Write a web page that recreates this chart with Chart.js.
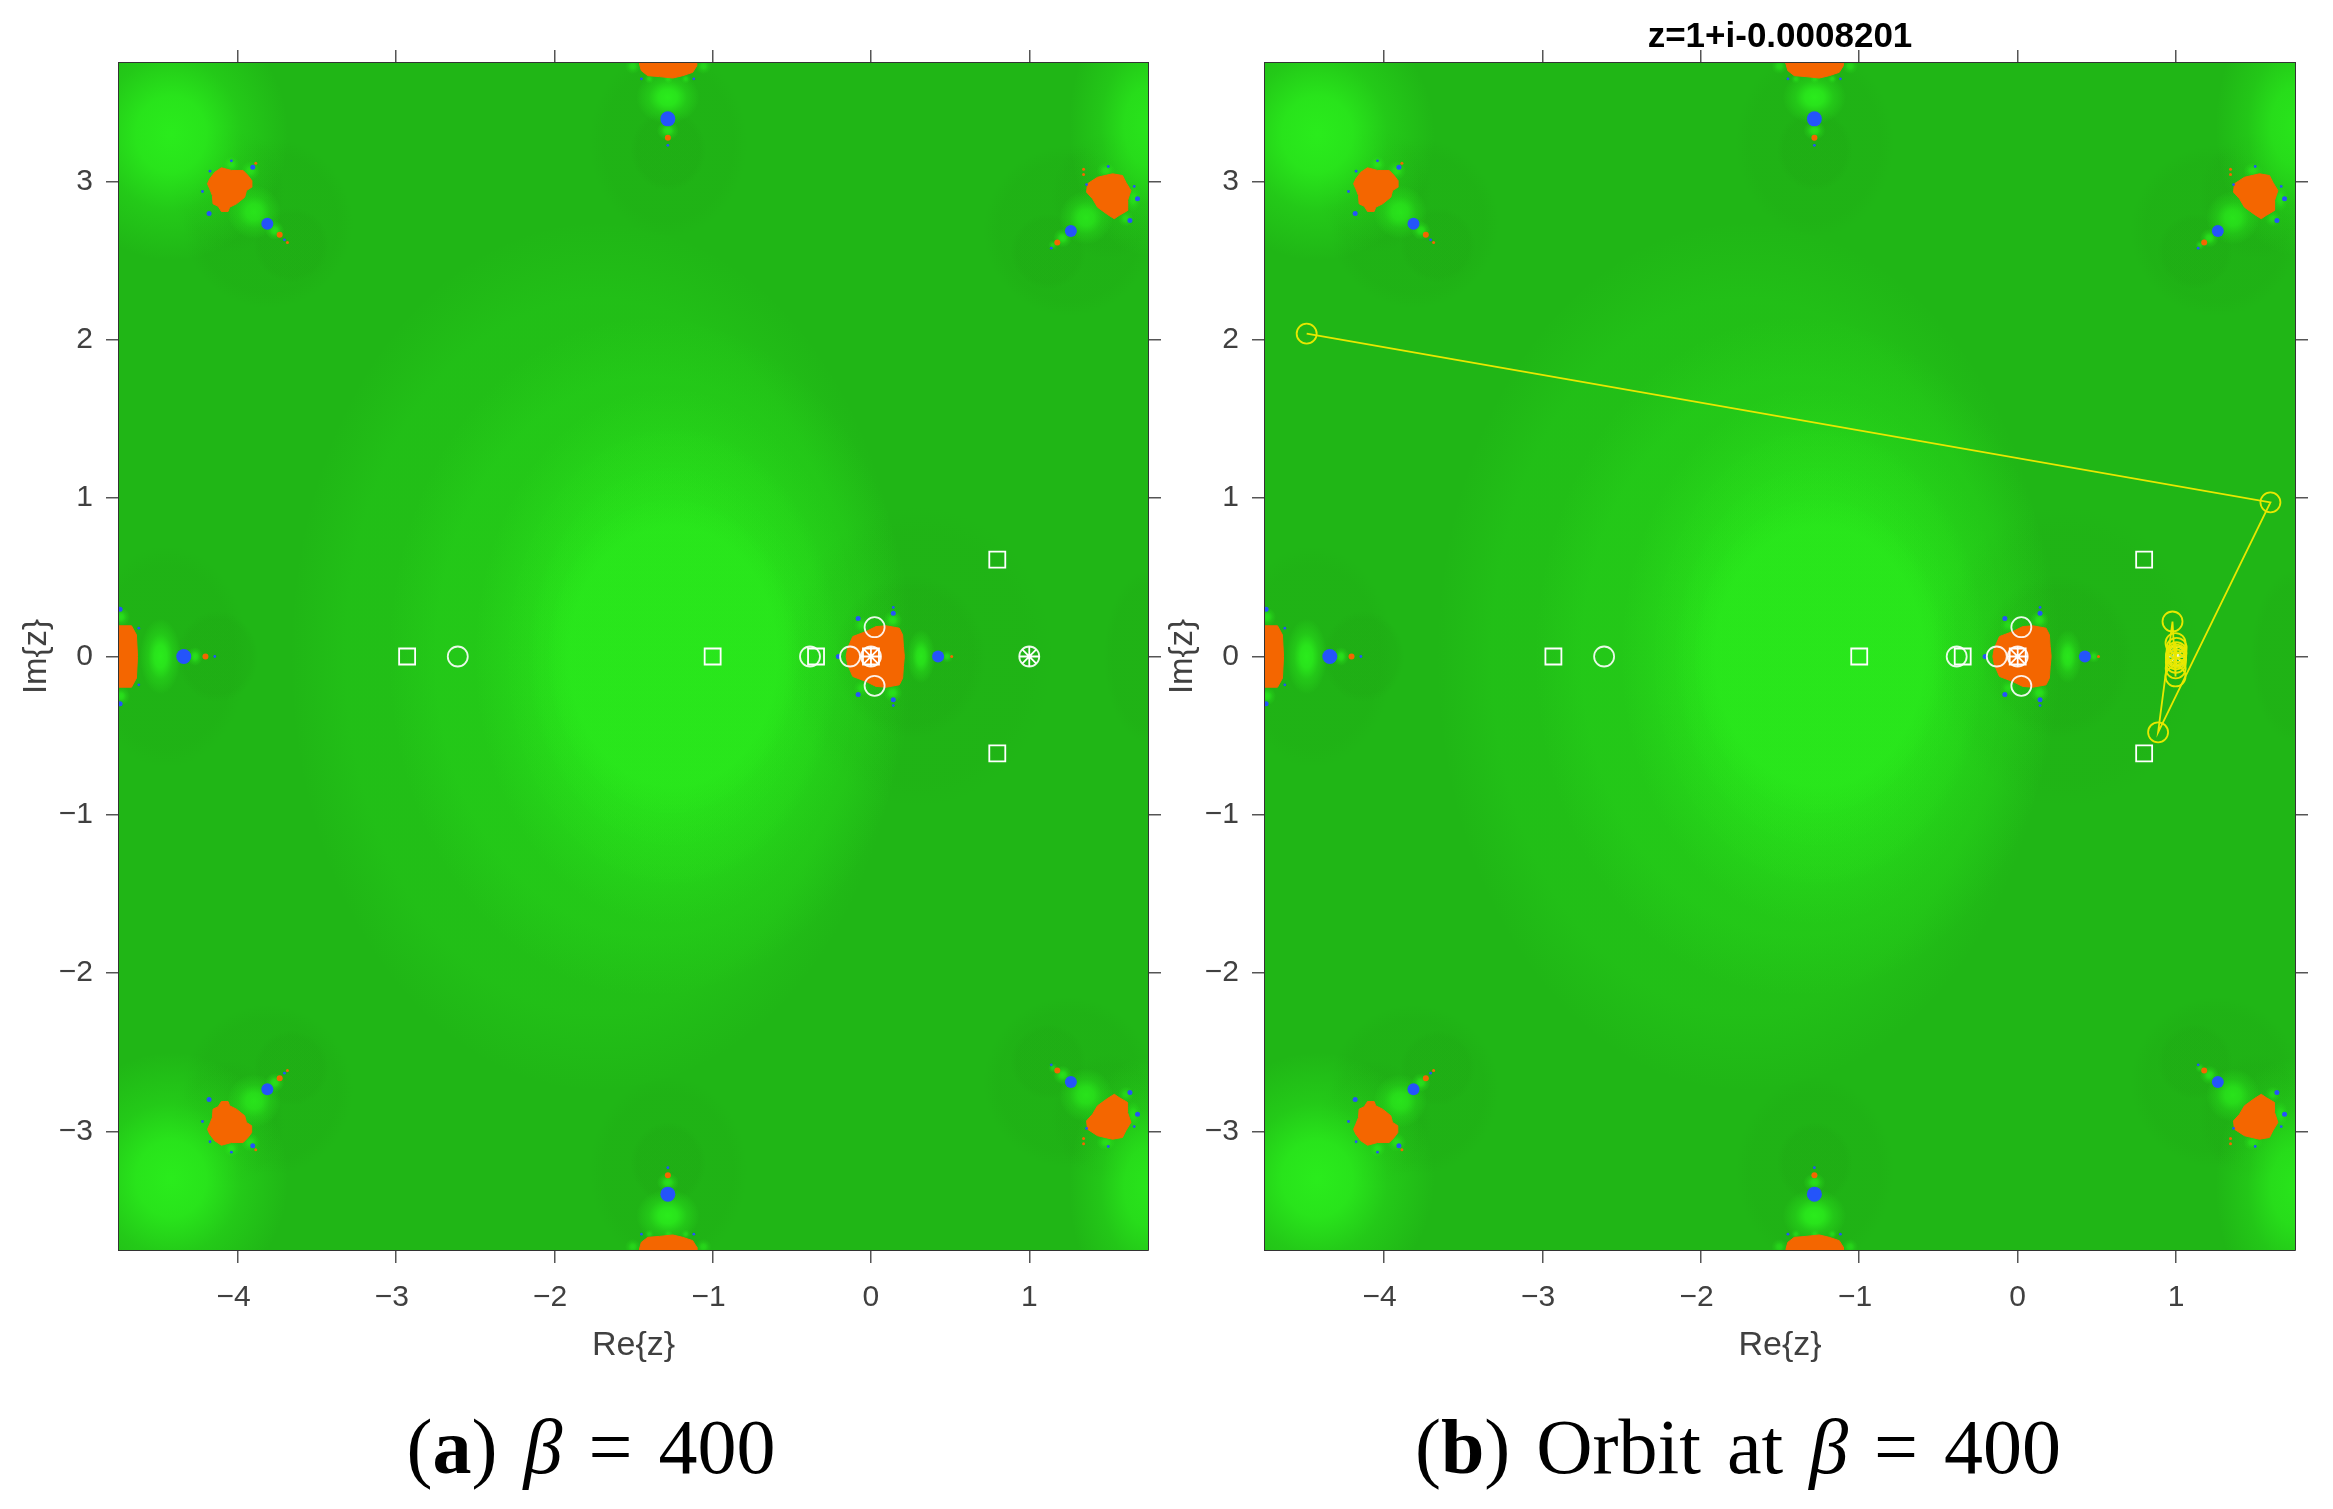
<!DOCTYPE html>
<html>
<head>
<meta charset="utf-8">
<title>Orbit at beta 400</title>
<script src="https://cdn.jsdelivr.net/npm/chart.js@4"></script>
<style>
    html, body { margin: 0; padding: 0; background: #fff; }
    body { position: relative; width: 2333px; height: 1509px; overflow: hidden; }
    canvas { position: absolute; top: 0; }
    #chartA { left: 0; }
    #chartB { left: 1146px; }
    .caption {
        position: absolute; top: 1402px; width: 1100px; text-align: center;
        font: 78px/90px "Liberation Serif", serif; word-spacing: 6.5px; color: #000; white-space: pre;
    }
</style>
</head>
<body>
<canvas id="chartA" width="1166" height="1400"></canvas>
<canvas id="chartB" width="1167" height="1400"></canvas>
<div class="caption" style="left:41px">(<b>a</b>) <i>β</i> = 400</div>
<div class="caption" style="left:1188px">(<b>b</b>) Orbit at <i>β</i> = 400</div>
<script>
// axis ticks
const xTickValues = [-4, -3, -2, -1, 0, 1];
const yTickValues = [-3, -2, -1, 0, 1, 2, 3];
const xRange = [-4.75, 1.75];
const yRange = [-3.75, 3.75];
const orbitTitle = "z=1+i-0.0008201";

// white markers (both panels)
const fixedCircles = [[-2.61, 0], [-0.385, 0], [-0.132, 0], [0, 0], [0.023, 0.185], [0.023, -0.185], [1, 0]];
const fixedSquares = [[-2.93, 0], [-1, 0], [-0.347, 0], [0, 0], [0.798, 0.612], [0.798, -0.612]];
const fixedStars = [[0, 0], [1, 0]];

// orbit in panel b, from the start point outwards
const orbitPoints = [[1, -0.001], [1.001, 0.012], [0.999, -0.018], [1.002, 0.027], [0.998, -0.04], [1.003, 0.055],
    [0.997, -0.075], [0.996, 0.085], [0.996, -0.126], [0.977, 0.221], [0.886, -0.479], [1.595, 0.974], [-4.487, 2.04]];

// orange blobs, read as outlines (upper half, the lower half is the same shape flipped)
const orangeTopLeft = [[-4.103, 3.088], [-4.04, 3.071], [-3.966, 3.071], [-3.935, 3.039], [-3.912, 3.008], [-3.912, 2.965],
    [-3.945, 2.944], [-3.956, 2.902], [-4.008, 2.86], [-4.051, 2.839], [-4.061, 2.812], [-4.103, 2.812], [-4.124, 2.845],
    [-4.156, 2.86], [-4.16, 2.913], [-4.177, 2.955], [-4.191, 2.987], [-4.177, 3.018], [-4.145, 3.06], [-4.103, 3.088]];
const orangeTopRight = [[1.431, 3.028], [1.526, 3.05], [1.589, 3.039], [1.61, 2.997], [1.642, 2.944], [1.621, 2.881], [1.621, 2.818],
    [1.568, 2.787], [1.537, 2.766], [1.494, 2.793], [1.431, 2.839], [1.4, 2.892], [1.362, 2.934], [1.368, 2.987], [1.431, 3.028]];
const orangeCentre = [[-0.157, 0], [-0.147, 0.053], [-0.115, 0.126], [-0.031, 0.158], [0.032, 0.189], [0.095, 0.194],
    [0.179, 0.179], [0.2, 0.137], [0.205, 0.063], [0.211, 0], [0.205, -0.063], [0.2, -0.137], [0.179, -0.179], [0.095, -0.194],
    [0.032, -0.189], [-0.031, -0.158], [-0.115, -0.126], [-0.147, -0.053], [-0.157, 0]];
const orangeLeft = [[-4.8, 0.194], [-4.671, 0.194], [-4.64, 0.137], [-4.633, 0], [-4.64, -0.137], [-4.671, -0.194], [-4.8, -0.194], [-4.8, 0.194]];
const orangeTop = [[-1.462, 3.8], [-1.462, 3.744], [-1.451, 3.702], [-1.41, 3.67], [-1.336, 3.664], [-1.252, 3.655],
    [-1.189, 3.67], [-1.126, 3.691], [-1.1, 3.733], [-1.1, 3.8], [-1.462, 3.8]];

// small dots in the upper half plus the real axis, grouped by size
const blueLarge = [[-1.283, 3.397], [-4.341, 0]];
const blueMedium = [[-3.813, 2.734], [1.263, 2.688], [0.424, 0]];
const blueSmall = [[-4.181, 2.799], [1.684, 2.892], [1.636, 2.755], [0.141, 0.274], [-4.743, 0.299], [-0.081, 0.24], [-0.206, 0], [-3.905, 3.092]];
const blueTiny = [[-4.04, 3.132], [-4.175, 3.066], [-4.223, 2.938], [-3.705, 2.633], [1.499, 3.096], [1.663, 2.97], [1.362, 2.982], [1.139, 2.58],
    [-1.45, 3.65], [-1.119, 3.65], [-1.283, 3.23], [-4.145, 0], [-4.625, 0.179], [0.141, 0.31]];
const orangeDots = [[-3.735, 2.665], [1.177, 2.616], [-4.204, 0], [-1.283, 3.277]];
const orangeTiny = [[0.51, 0], [-3.686, 2.616], [-3.886, 3.117], [1.343, 3.079], [1.343, 3.045]];

// green field, upper half: x, y, x radius, y radius, strength (+ brighter, - darker)
const fieldBands = [[-1.72, 0, 1.95, 2.75, 0.17], [-1.39, 0, 1.66, 2.15, 0.2], [-1.285, 0, 1.22, 1.7, 0.24], [-1.25, 0, 1.05, 1.45, 0.28],
    [-1.27, 0, 0.9, 1.2, 0.34], [-1.25, 0, 0.8, 1.0, 0.55]];
const fieldHalos = [[-3.81, 2.74, 0.54, 0.54, -0.07], [-3.66, 2.6, 0.24, 0.24, -0.07], [-4.06, 2.95, 0.36, 0.4, -0.05],
    [1.25, 2.69, 0.54, 0.54, -0.07], [1.12, 2.56, 0.24, 0.24, -0.07], [1.5, 2.91, 0.36, 0.4, -0.05],
    [-4.45, 0, 0.52, 0.7, -0.06], [-4.13, 0, 0.26, 0.29, -0.08], [-1.28, 3.25, 0.5, 0.6, -0.06], [-1.28, 3.2, 0.24, 0.26, -0.08],
    [0.25, 0, 0.48, 0.52, -0.07], [0.3, 0, 0.85, 0.95, -0.04], [1.75, 0, 0.28, 0.55, -0.06]];
const fieldCorners = [[-4.42, 3.3, 0.74, 0.8, 1], [1.75, 3.35, 0.5, 0.82, 0.85]];
const fieldSpots = [[-3.897, 2.808, 0.17, 0.17, 0.85], [1.358, 2.772, 0.17, 0.17, 0.85], [-4.488, 0, 0.13, 0.24, 1], [-1.283, 3.533, 0.2, 0.17, 1], [0.316, 0, 0.09, 0.17, 0.9],
    [-3.766, 2.692, 0.06, 0.06, 0.8], [1.21, 2.644, 0.06, 0.06, 0.8], [1.15, 2.6, 0.03, 0.03, 0.6], [-3.92, 3.07, 0.06, 0.06, 0.7], [1.484, 3.07, 0.06, 0.05, 0.7], [1.657, 2.892, 0.05, 0.08, 0.7], [1.61, 2.766, 0.05, 0.05, 0.6],
    [-4.04, 3.11, 0.05, 0.05, 0.7], [-4.27, 0, 0.05, 0.06, 0.8], [-1.283, 3.323, 0.07, 0.06, 0.8], [0.137, 0.23, 0.06, 0.06, 0.8],
    [-0.06, 0.2, 0.05, 0.05, 0.6], [0.48, 0, 0.04, 0.04, 0.7], [-4.74, 0.25, 0.06, 0.06, 0.8], [-1.504, 3.73, 0.05, 0.05, 0.6], [-1.058, 3.73, 0.05, 0.05, 0.6],
    [-1.4, 3.65, 0.03, 0.03, 0.6], [-1.28, 3.65, 0.03, 0.03, 0.6], [-1.17, 3.65, 0.03, 0.03, 0.6]];

const flipY = list => list.concat(list.filter(p => p[1] !== 0).map(([x, y, ...rest]) => [x, -y, ...rest]));
const mirrorY = points => points.map(([x, y]) => [x, -y]);
const toXY = points => points.map(([x, y]) => ({ x, y }));

const baseGreen = "#20b616";

// Paints the green field under the datasets, placed through the chart's scales
function paintField(ctx, x, y, list, stops) {
    flipY(list).forEach(([cx, cy, rx, ry, strength]) => {
        const px = x.getPixelForValue(cx);
        const py = y.getPixelForValue(cy);
        const sx = x.getPixelForValue(cx + rx) - px;
        const sy = py - y.getPixelForValue(cy + ry);
        const rgb = strength > 0 ? "42,236,28" : "26,130,14";
        const a = Math.abs(strength);
        ctx.save();
        ctx.translate(px, py);
        ctx.scale(sx, sy);
        const g = ctx.createRadialGradient(0, 0, 0, 0, 0, 1);
        stops.forEach(([at, k]) => g.addColorStop(at, `rgba(${rgb},${a * k})`));
        ctx.fillStyle = g;
        ctx.beginPath();
        ctx.arc(0, 0, 1, 0, Math.PI * 2);
        ctx.fill();
        ctx.restore();
    });
}

const fieldPlugin = {
    id: "field",
    beforeDatasetsDraw(chart) {
        const { ctx, chartArea: area, scales: { x, y } } = chart;
        const plateau = [[0, 1], [0.82, 1], [1, 0]];
        const soft = [[0, 1], [0.3, 0.85], [0.6, 0.36], [1, 0]];
        ctx.save();
        ctx.beginPath();
        ctx.rect(area.left, area.top, area.width, area.height);
        ctx.clip();
        ctx.fillStyle = baseGreen;
        ctx.fillRect(area.left, area.top, area.width, area.height);
        paintField(ctx, x, y, fieldBands, plateau);
        paintField(ctx, x, y, fieldHalos, plateau);
        paintField(ctx, x, y, fieldCorners, soft);
        paintField(ctx, x, y, fieldSpots, soft);
        ctx.restore();
    }
};

function blob(points) {
    return { data: toXY(points), showLine: true, fill: "shape", backgroundColor: "#f46600", borderColor: "#f46600", borderWidth: 1, pointRadius: 0, tension: 0 };
}

function dots(points, color, radius) {
    return { data: toXY(flipY(points)), pointStyle: "circle", pointRadius: radius, pointBackgroundColor: color, pointBorderWidth: 0, showLine: false };
}

function outlined(points, style, radius, color) {
    return { data: toXY(points), pointStyle: style, pointRadius: radius, pointBackgroundColor: "rgba(0,0,0,0)", pointBorderColor: color, pointBorderWidth: 1.8, showLine: false };
}

function markDatasets() {
    return [
        blob(orangeTopLeft), blob(mirrorY(orangeTopLeft)), blob(orangeTopRight), blob(mirrorY(orangeTopRight)),
        blob(orangeCentre), blob(orangeLeft), blob(orangeTop), blob(mirrorY(orangeTop)),
        dots(blueLarge, "#2454fa", 7.5), dots(blueMedium, "#2454fa", 6), dots(blueSmall, "#2454fa", 2.5), dots(blueTiny, "#2454fa", 1.4),
        dots(orangeDots, "#f46600", 3), dots(orangeTiny, "#f46600", 1.5),
        outlined(fixedCircles, "circle", 10, "rgba(255,255,255,0.9)"),
        outlined(fixedSquares, "rect", 11.3, "#fff"),
        outlined(fixedStars, "star", 10, "#fff")
    ];
}

function axisFont(size, weight) {
    return { family: "'Liberation Sans', Arial, sans-serif", size, weight };
}

function makeOptions(topTitle) {
    const gridStyle = { drawOnChartArea: false, tickLength: 13, color: "#555", lineWidth: 1.5 };
    const borderStyle = { color: "#333", width: 2 };
    const minus = v => (v < 0 ? "\u2212" + Math.abs(v) + " " : String(v));
    return {
        responsive: false,
        animation: false,
        events: [],
        layout: { padding: 0 },
        plugins: { legend: { display: false }, tooltip: { enabled: false } },
        scales: {
            x: {
                type: "linear", position: "bottom", min: xRange[0], max: xRange[1],
                afterBuildTicks: s => { s.ticks = xTickValues.map(value => ({ value })); },
                afterFit: s => { s.height = 150; },
                grid: gridStyle, border: borderStyle,
                ticks: { callback: minus, maxRotation: 0, autoSkip: false, padding: 17, color: "#404040", font: axisFont(30) },
                title: { display: true, text: "Re{z}", color: "#404040", font: axisFont(34), padding: { top: 0, bottom: 34 } }
            },
            y: {
                type: "linear", position: "left", min: yRange[0], max: yRange[1],
                afterBuildTicks: s => { s.ticks = yTickValues.map(value => ({ value })); },
                afterFit: s => { s.width = 119; },
                grid: gridStyle, border: borderStyle,
                ticks: { callback: v => String(v).replace("-", "\u2212"), autoSkip: false, padding: 13, color: "#404040", font: axisFont(30) },
                title: { display: true, text: "Im{z}", color: "#404040", font: axisFont(33), padding: { top: 17, bottom: 0 } }
            },
            xTop: {
                type: "linear", axis: "x", position: "top", min: xRange[0], max: xRange[1],
                afterBuildTicks: s => { s.ticks = xTickValues.map(value => ({ value })); },
                afterFit: s => { s.height = 63; },
                grid: gridStyle, border: borderStyle,
                ticks: { display: false },
                title: { display: !!topTitle, text: topTitle || "", color: "#000", font: axisFont(35, "bold"), padding: { top: 16, bottom: 0 } }
            },
            yRight: {
                type: "linear", axis: "y", position: "right", min: yRange[0], max: yRange[1],
                afterBuildTicks: s => { s.ticks = yTickValues.map(value => ({ value })); },
                afterFit: s => { s.width = 18; },
                grid: gridStyle, border: borderStyle,
                ticks: { display: false }
            }
        }
    };
}

document.addEventListener("DOMContentLoaded", () => {
    new Chart(document.getElementById("chartA").getContext("2d"), {
        type: "scatter",
        data: { datasets: markDatasets().reverse() },
        options: makeOptions(null),
        plugins: [fieldPlugin]
    });

    const orbit = {
        data: toXY(orbitPoints), showLine: true, borderColor: "#e8e800", borderWidth: 1.8, tension: 0, fill: false,
        pointStyle: "circle", pointRadius: 10, pointBackgroundColor: "rgba(0,0,0,0)", pointBorderColor: "#e8e800", pointBorderWidth: 1.8
    };
    new Chart(document.getElementById("chartB").getContext("2d"), {
        type: "scatter",
        data: { datasets: [orbit].concat(markDatasets().reverse()) },
        options: makeOptions(orbitTitle),
        plugins: [fieldPlugin]
    });
});
</script>
</body>
</html>
